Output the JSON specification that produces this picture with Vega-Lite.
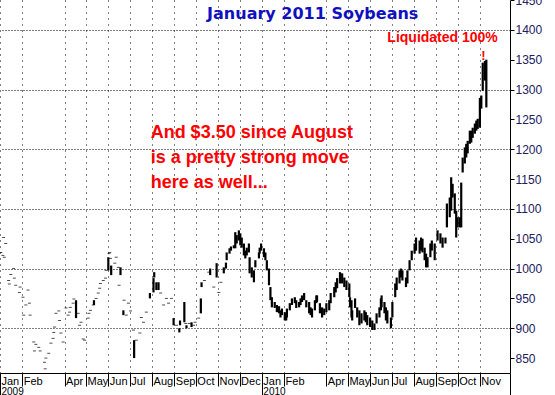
{
  "$schema": "https://vega.github.io/schema/vega-lite/v6.json",
  "width": 510,
  "height": 373,
  "autosize": "none",
  "padding": {"left": 0, "top": 0, "right": 45, "bottom": 22},
  "background": "white",
  "config": {"view": {"stroke": null}},
  "data": {"values": [
    {"d":"2009-01-02","c":1027},{"d":"2009-01-05","c":1022},{"d":"2009-01-06","c":1052},{"d":"2009-01-07","c":1019},
    {"d":"2009-01-09","c":1042},{"d":"2009-01-13","c":980},{"d":"2009-01-14","c":974},{"d":"2009-01-16","c":990},
    {"d":"2009-01-20","c":1000},{"d":"2009-01-21","c":984},{"d":"2009-01-23","c":972},{"d":"2009-01-28","c":960},
    {"d":"2009-01-29","c":969},{"d":"2009-02-02","c":952},{"d":"2009-02-03","c":922},{"d":"2009-02-06","c":939},
    {"d":"2009-02-09","c":964},{"d":"2009-02-11","c":942},{"d":"2009-02-12","c":922},{"d":"2009-02-17","c":877},
    {"d":"2009-02-18","c":862},{"d":"2009-02-20","c":873},{"d":"2009-02-24","c":868},{"d":"2009-02-26","c":862},
    {"d":"2009-03-04","c":843},{"d":"2009-03-05","c":832},{"d":"2009-03-06","c":850},{"d":"2009-03-10","c":858},
    {"d":"2009-03-13","c":875},{"d":"2009-03-16","c":883},{"d":"2009-03-17","c":893},{"d":"2009-03-18","c":902},
    {"d":"2009-03-20","c":925},{"d":"2009-03-24","c":929},{"d":"2009-03-25","c":913},{"d":"2009-03-27","c":892},
    {"d":"2009-03-30","c":877},{"d":"2009-04-03","c":934},{"d":"2009-04-06","c":922},{"d":"2009-04-08","c":927},
    {"d":"2009-04-09","c":935},{"d":"2009-04-13","c":942},{"d":"2009-04-14","c":949},{"d":"2009-04-17","h":947,"l":917},
    {"d":"2009-04-20","c":925},{"d":"2009-04-22","c":905},{"d":"2009-04-24","c":910},{"d":"2009-04-27","c":882},
    {"d":"2009-04-29","c":880},{"d":"2009-05-04","c":917},{"d":"2009-05-05","c":925},{"d":"2009-05-07","c":930},
    {"d":"2009-05-11","c":939},{"d":"2009-05-12","h":947,"l":939},{"d":"2009-05-15","c":950},{"d":"2009-05-18","c":959},
    {"d":"2009-05-20","c":967},{"d":"2009-05-21","c":975},{"d":"2009-05-25","c":980},{"d":"2009-05-28","c":984},
    {"d":"2009-05-29","c":997},{"d":"2009-06-01","h":1019,"l":997},{"d":"2009-06-02","c":1025},{"d":"2009-06-03","c":1027},
    {"d":"2009-06-04","c":1017},{"d":"2009-06-05","h":1005,"l":989},{"d":"2009-06-10","c":1009},{"d":"2009-06-12","c":1019},
    {"d":"2009-06-15","c":1002},{"d":"2009-06-16","c":972},{"d":"2009-06-18","h":1002,"l":989},{"d":"2009-06-22","h":930,"l":922},
    {"d":"2009-06-23","c":947},{"d":"2009-06-26","c":922},{"d":"2009-06-29","c":942},{"d":"2009-07-02","c":929},
    {"d":"2009-07-06","c":897},{"d":"2009-07-07","h":880,"l":850},{"d":"2009-07-10","c":880},{"d":"2009-07-15","c":892},
    {"d":"2009-07-17","c":918},{"d":"2009-07-20","c":910},{"d":"2009-07-24","c":927},{"d":"2009-07-29","h":959,"l":950},
    {"d":"2009-08-03","h":984,"l":960},{"d":"2009-08-04","h":994,"l":985},{"d":"2009-08-07","h":977,"l":964},{"d":"2009-08-10","h":977,"l":964},
    {"d":"2009-08-13","c":959},{"d":"2009-08-17","c":939},{"d":"2009-08-21","c":950},{"d":"2009-08-24","c":942},
    {"d":"2009-08-28","c":950},{"d":"2009-08-31","h":917,"l":905},{"d":"2009-09-04","c":905},{"d":"2009-09-08","h":900,"l":893},
    {"d":"2009-09-09","h":913,"l":905},{"d":"2009-09-15","h":944,"l":910},{"d":"2009-09-17","c":908},{"d":"2009-09-18","h":905,"l":900},
    {"d":"2009-09-22","c":908},{"d":"2009-09-25","h":910,"l":902},{"d":"2009-09-28","c":905},{"d":"2009-09-30","c":910},
    {"d":"2009-10-05","c":917},{"d":"2009-10-08","h":950,"l":925},{"d":"2009-10-09","h":977,"l":969},{"d":"2009-10-13","c":980},
    {"d":"2009-10-19","c":994},{"d":"2009-10-21","h":1000,"l":989},{"d":"2009-10-26","c":969},{"d":"2009-10-30","h":1009,"l":985},
    {"d":"2009-11-02","c":960},{"d":"2009-11-05","c":977},{"d":"2009-11-09","h":1002,"l":992},
    {"d":"2009-11-12","h":1010,"l":1000},{"d":"2009-11-13","h":1027,"l":1014},{"d":"2009-11-17","h":1034,"l":1025},{"d":"2009-11-19","h":1037,"l":1030},
    {"d":"2009-11-23","h":1039,"l":1034},{"d":"2009-11-25","h":1061,"l":1034},{"d":"2009-11-27","h":1056,"l":1042},{"d":"2009-11-30","h":1064,"l":1047},
    {"d":"2009-12-02","h":1059,"l":1039},{"d":"2009-12-04","h":1052,"l":1035},{"d":"2009-12-07","h":1042,"l":1022},{"d":"2009-12-09","h":1030,"l":1017},
    {"d":"2009-12-11","h":1035,"l":1022},{"d":"2009-12-14","h":1042,"l":1027},{"d":"2009-12-15","h":1019,"l":992},{"d":"2009-12-18","h":1002,"l":985},
    {"d":"2009-12-21","h":997,"l":977},{"d":"2009-12-23","h":1014,"l":1002},{"d":"2009-12-28","h":1027,"l":1017},{"d":"2009-12-29","h":1035,"l":1025},
    {"d":"2009-12-31","h":1042,"l":1030},{"d":"2010-01-04","h":1034,"l":1019},{"d":"2010-01-06","h":1027,"l":1014},{"d":"2010-01-08","h":1014,"l":997},
    {"d":"2010-01-11","h":1000,"l":972},{"d":"2010-01-13","h":969,"l":947},{"d":"2010-01-15","h":952,"l":935},{"d":"2010-01-19","h":944,"l":934},
    {"d":"2010-01-22","h":939,"l":927},{"d":"2010-01-25","h":937,"l":925},{"d":"2010-01-27","h":930,"l":918},{"d":"2010-01-29","h":933,"l":922},
    {"d":"2010-02-02","h":927,"l":913},{"d":"2010-02-04","h":925,"l":913},{"d":"2010-02-05","h":933,"l":918},{"d":"2010-02-09","h":942,"l":930},
    {"d":"2010-02-12","h":950,"l":939},{"d":"2010-02-16","h":952,"l":942},{"d":"2010-02-18","h":947,"l":934},{"d":"2010-02-22","h":944,"l":935},
    {"d":"2010-02-24","h":950,"l":939},{"d":"2010-02-26","h":955,"l":944},{"d":"2010-03-01","h":959,"l":947},{"d":"2010-03-04","h":947,"l":935},
    {"d":"2010-03-08","h":944,"l":925},{"d":"2010-03-10","h":935,"l":922},{"d":"2010-03-12","h":933,"l":918},{"d":"2010-03-16","h":947,"l":930},
    {"d":"2010-03-18","h":955,"l":942},{"d":"2010-03-19","h":955,"l":944},{"d":"2010-03-23","h":942,"l":925},{"d":"2010-03-26","h":935,"l":918},
    {"d":"2010-03-29","h":933,"l":922},{"d":"2010-04-01","h":942,"l":927},{"d":"2010-04-05","h":947,"l":930},{"d":"2010-04-07","h":959,"l":942},
    {"d":"2010-04-12","h":969,"l":952},{"d":"2010-04-14","h":977,"l":960},{"d":"2010-04-16","h":984,"l":967},{"d":"2010-04-20","h":994,"l":975},
    {"d":"2010-04-23","h":992,"l":975},{"d":"2010-04-26","h":985,"l":969},{"d":"2010-04-29","h":980,"l":964},{"d":"2010-05-03","h":975,"l":952},
    {"d":"2010-05-04","h":952,"l":935},{"d":"2010-05-06","h":947,"l":918},{"d":"2010-05-07","h":930,"l":913},{"d":"2010-05-11","h":950,"l":934},
    {"d":"2010-05-14","h":935,"l":918},{"d":"2010-05-17","h":930,"l":905},{"d":"2010-05-20","h":925,"l":908},{"d":"2010-05-24","h":930,"l":913},
    {"d":"2010-05-26","h":927,"l":910},{"d":"2010-05-28","h":922,"l":905},{"d":"2010-06-01","h":918,"l":902},{"d":"2010-06-04","h":913,"l":897},
    {"d":"2010-06-07","h":908,"l":897},{"d":"2010-06-10","h":925,"l":908},{"d":"2010-06-14","h":935,"l":918},{"d":"2010-06-16","h":950,"l":930},
    {"d":"2010-06-17","h":955,"l":935},{"d":"2010-06-21","h":944,"l":925},{"d":"2010-06-23","h":935,"l":913},{"d":"2010-06-25","h":930,"l":908},
    {"d":"2010-06-30","h":918,"l":900},{"d":"2010-07-02","h":944,"l":918},{"d":"2010-07-06","h":975,"l":952},{"d":"2010-07-08","h":985,"l":964},
    {"d":"2010-07-12","h":997,"l":975},{"d":"2010-07-14","h":1000,"l":985},{"d":"2010-07-16","h":997,"l":980},{"d":"2010-07-21","h":985,"l":969},
    {"d":"2010-07-23","h":997,"l":975},{"d":"2010-07-26","h":1014,"l":997},{"d":"2010-07-29","h":1030,"l":1014},{"d":"2010-08-02","h":1042,"l":1025},
    {"d":"2010-08-04","h":1052,"l":1030},{"d":"2010-08-09","h":1047,"l":1025},{"d":"2010-08-11","h":1052,"l":1030},{"d":"2010-08-13","h":1050,"l":1027},
    {"d":"2010-08-16","h":1035,"l":1014},{"d":"2010-08-18","h":1025,"l":1002},{"d":"2010-08-20","h":1019,"l":1002},{"d":"2010-08-24","h":1042,"l":1019},
    {"d":"2010-08-26","h":1047,"l":1030},{"d":"2010-08-30","h":1042,"l":1014},{"d":"2010-09-03","h":1064,"l":1047},{"d":"2010-09-07","h":1059,"l":1042},
    {"d":"2010-09-10","h":1052,"l":1035},{"d":"2010-09-14","h":1052,"l":1042},{"d":"2010-09-16","h":1109,"l":1069},{"d":"2010-09-20","h":1119,"l":1086},
    {"d":"2010-09-22","h":1153,"l":1097},{"d":"2010-09-24","h":1142,"l":1119},{"d":"2010-09-27","h":1126,"l":1092},{"d":"2010-09-29","h":1097,"l":1052},
    {"d":"2010-10-01","h":1086,"l":1069},{"d":"2010-10-04","h":1086,"l":1069},{"d":"2010-10-06","h":1144,"l":1069},{"d":"2010-10-08","h":1186,"l":1161},
    {"d":"2010-10-11","h":1203,"l":1176},{"d":"2010-10-13","h":1209,"l":1186},{"d":"2010-10-15","h":1214,"l":1193},{"d":"2010-10-18","h":1231,"l":1209},
    {"d":"2010-10-20","h":1231,"l":1211},{"d":"2010-10-22","h":1236,"l":1219},{"d":"2010-10-25","h":1243,"l":1226},{"d":"2010-10-27","h":1248,"l":1231},
    {"d":"2010-10-29","h":1251,"l":1234},{"d":"2010-11-01","h":1286,"l":1236},{"d":"2010-11-03","h":1290,"l":1268},{"d":"2010-11-05","h":1345,"l":1298},
    {"d":"2010-11-08","h":1348,"l":1315},{"d":"2010-11-10","h":1350,"l":1270}
  ]},
  "layer": [
    {
      "mark": {"type": "rule", "color": "black", "strokeWidth": 2.2},
      "encoding": {
        "x": {"field": "d", "type": "temporal",
          "scale": {"domain": [{"year":2009,"month":1,"date":1},{"year":2010,"month":12,"date":13}], "nice": false},
          "axis": {"orient": "bottom", "title": null, "format": "%b",
            "values": [{"year":2009,"month":1,"date":1},{"year":2009,"month":2,"date":1},{"year":2009,"month":4,"date":1},{"year":2009,"month":5,"date":1},{"year":2009,"month":6,"date":1},{"year":2009,"month":7,"date":1},{"year":2009,"month":8,"date":1},{"year":2009,"month":9,"date":1},{"year":2009,"month":10,"date":1},{"year":2009,"month":11,"date":1},{"year":2009,"month":12,"date":1},{"year":2010,"month":1,"date":1},{"year":2010,"month":2,"date":1},{"year":2010,"month":4,"date":1},{"year":2010,"month":5,"date":1},{"year":2010,"month":6,"date":1},{"year":2010,"month":7,"date":1},{"year":2010,"month":8,"date":1},{"year":2010,"month":9,"date":1},{"year":2010,"month":10,"date":1},{"year":2010,"month":11,"date":1}],
            "labelAlign": "left", "labelBaseline": "top", "labelPadding": -11, "labelOffset": 1,
            "labelFont": "Liberation Sans", "labelFontSize": 11, "labelColor": "black",
            "labelOverlap": false, "labelFlush": false, "labelBound": false,
            "tickSize": 13, "tickColor": "black", "tickWidth": 1,
            "domainColor": "black", "domainWidth": 1,
            "grid": true, "gridColor": "black", "gridDash": [1, 5], "gridOpacity": 1, "gridWidth": 1}},
        "y": {"field": "l", "type": "quantitative",
          "scale": {"domain": [825, 1450], "nice": false, "zero": false},
          "axis": {"orient": "right", "title": null, "format": "d",
            "values": [850, 900, 950, 1000, 1050, 1100, 1150, 1200, 1250, 1300, 1350, 1400, 1450],
            "labelFont": "Liberation Sans", "labelFontSize": 12, "labelColor": "#202060",
            "labelPadding": 1, "labelFlush": false, "labelOverlap": false, "labelBound": false,
            "tickSize": 4, "tickColor": "black", "domainColor": "black", "grid": false}},
        "y2": {"field": "h"}
      }
    },
    {
      "mark": {"type": "tick", "orient": "horizontal", "color": "black", "size": 3, "thickness": 1},
      "encoding": {
        "x": {"field": "d", "type": "temporal",
          "axis": {"orient": "bottom", "title": null, "format": "%Y",
            "values": [{"year":2009,"month":1,"date":1},{"year":2010,"month":1,"date":1},{"year":2010,"month":12,"date":13}],
            "labelExpr": "month(datum.value) == 11 ? '' : datum.label",
            "labelAlign": "left", "labelBaseline": "top", "labelPadding": -9, "labelOffset": 1,
            "labelFont": "Liberation Sans", "labelFontSize": 10, "labelColor": "black",
            "labelOverlap": false, "labelFlush": false, "labelBound": false,
            "tickSize": 22, "tickColor": "black", "tickWidth": 1, "domain": false, "grid": false}},
        "y": {"field": "c", "type": "quantitative",
          "axis": {"orient": "right", "title": null, "values": [900, 1000, 1100, 1200, 1300, 1400],
            "labels": false, "ticks": false, "domain": false,
            "grid": true, "gridColor": "black", "gridDash": [1, 2], "gridOpacity": 1, "gridWidth": 1}}
      }
    },
    {
      "data": {"values": [{}]},
      "mark": {"type": "text", "text": "January 2011 Soybeans", "font": "DejaVu Sans", "fontWeight": "bold", "fontSize": 16, "color": "#1010C0", "align": "center", "baseline": "middle"},
      "encoding": {
        "x": {"datum": {"year": 2010, "month": 3, "date": 13}, "type": "temporal", "axis": null},
        "y": {"datum": 1426, "type": "quantitative", "axis": null}
      }
    },
    {
      "data": {"values": [{}]},
      "mark": {"type": "text", "text": "Liquidated 100%", "font": "Liberation Sans", "fontWeight": "bold", "fontSize": 14, "color": "#FF0000", "align": "center", "baseline": "middle"},
      "encoding": {
        "x": {"datum": {"year": 2010, "month": 9, "date": 10}, "type": "temporal", "axis": null},
        "y": {"datum": 1386, "type": "quantitative", "axis": null}
      }
    },
    {
      "data": {"values": [{}]},
      "mark": {"type": "text", "text": "!", "font": "Liberation Sans", "fontWeight": "bold", "fontSize": 13, "color": "#FF0000", "align": "center", "baseline": "middle"},
      "encoding": {
        "x": {"datum": {"year": 2010, "month": 11, "date": 6}, "type": "temporal", "axis": null},
        "y": {"datum": 1357, "type": "quantitative", "axis": null}
      }
    },
    {
      "data": {"values": [{}]},
      "mark": {"type": "text", "text": ["And $3.50 since August", "is a pretty strong move", "here as well..."], "font": "Liberation Sans", "fontWeight": "bold", "fontSize": 18, "lineHeight": 25, "color": "#FF0000", "align": "left", "baseline": "middle"},
      "encoding": {
        "x": {"datum": {"year": 2009, "month": 7, "date": 30}, "type": "temporal", "axis": null},
        "y": {"datum": 1227, "type": "quantitative", "axis": null}
      }
    }
  ],
  "resolve": {"axis": {"x": "independent", "y": "independent"}}
}
